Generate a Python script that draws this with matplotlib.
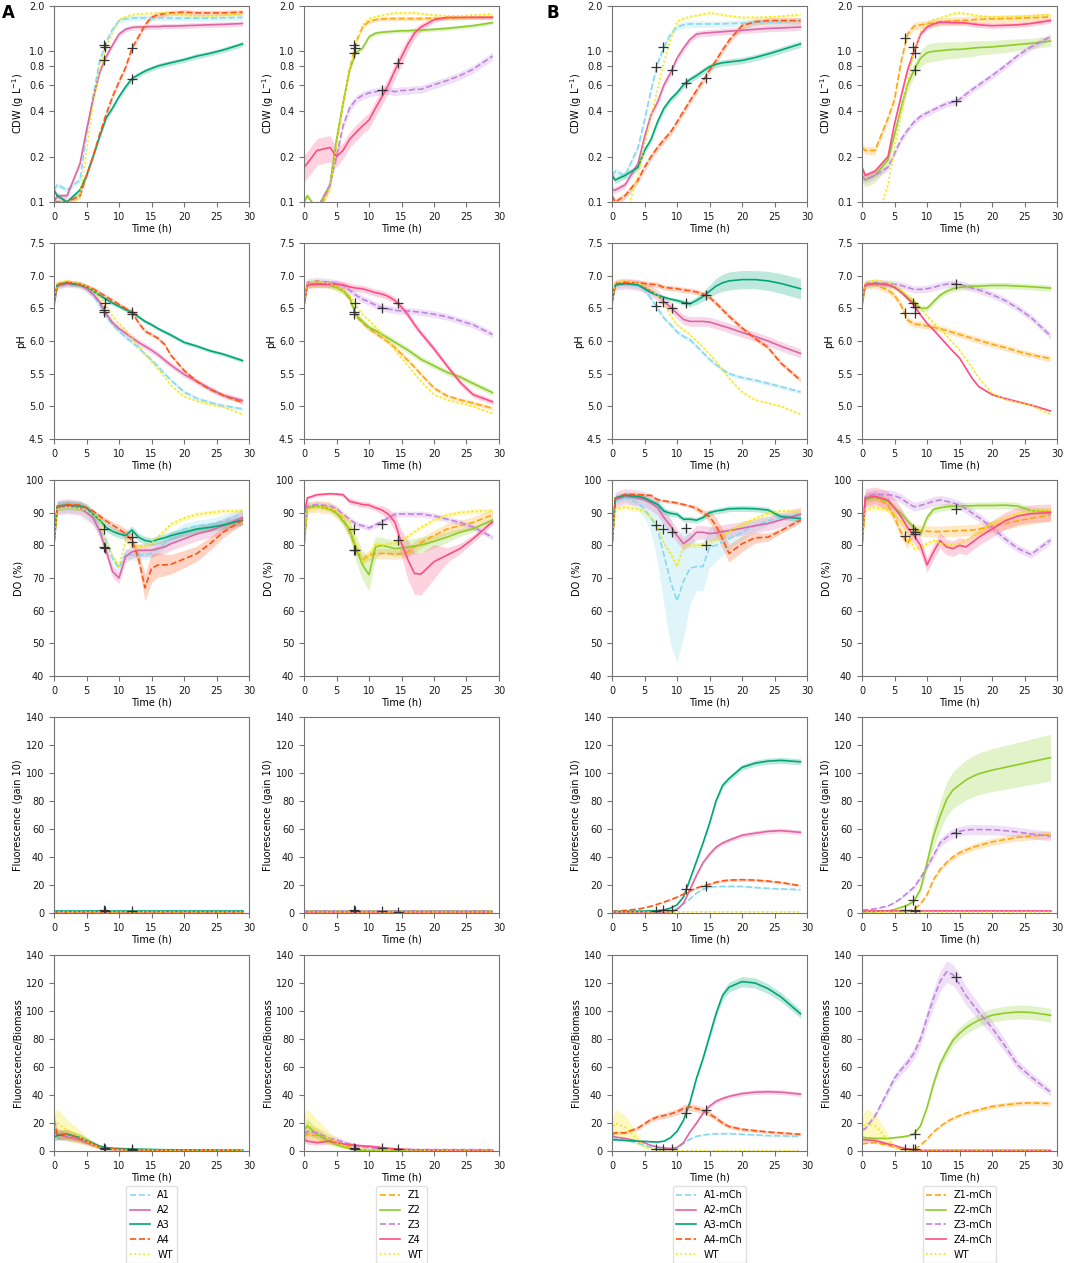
import numpy as np
import matplotlib.pyplot as plt
from matplotlib.ticker import NullLocator, NullFormatter

t = [0, 0.5, 2, 4, 5, 6, 7, 8, 9, 10, 11, 12, 13, 14, 15, 16, 17, 18, 20, 22, 24, 26, 29]

keys_a = ["A1", "A2", "A3", "A4", "WT"]
keys_z = ["Z1", "Z2", "Z3", "Z4", "WT"]
labels_a = ["A1", "A2", "A3", "A4", "WT"]
labels_z = ["Z1", "Z2", "Z3", "Z4", "WT"]
labels_am = ["A1-mCh", "A2-mCh", "A3-mCh", "A4-mCh", "WT"]
labels_zm = ["Z1-mCh", "Z2-mCh", "Z3-mCh", "Z4-mCh", "WT"]

colors = {"A1": "#87d9ee", "A2": "#e065a5", "A3": "#00a676", "A4": "#ff5514",
          "WT": "#f4e600", "Z1": "#ffa512", "Z2": "#8fcc2a", "Z3": "#c084e0",
          "Z4": "#ff4c84"}
styles = {"A1": "--", "A2": "-", "A3": "-", "A4": "--", "WT": ":",
          "Z1": "--", "Z2": "-", "Z3": "--", "Z4": "-"}

# ---------------- CDW (g/L) ----------------
cdw_a = {
    "A1": [0.12, 0.13, 0.12, 0.14, 0.28, 0.50, 0.85, 1.15, 1.40, 1.60, 1.64, 1.66, 1.67, 1.67, 1.67, 1.67, 1.67, 1.66, 1.66, 1.66, 1.66, 1.67, 1.68],
    "A2": [0.10, 0.11, 0.11, 0.18, 0.30, 0.48, 0.72, 0.92, 1.10, 1.30, 1.40, 1.44, 1.45, 1.45, 1.46, 1.46, 1.47, 1.47, 1.48, 1.49, 1.50, 1.51, 1.53],
    "A3": [0.12, 0.11, 0.10, 0.12, 0.15, 0.20, 0.27, 0.36, 0.42, 0.50, 0.58, 0.66, 0.70, 0.74, 0.77, 0.80, 0.82, 0.84, 0.88, 0.93, 0.97, 1.02, 1.12],
    "A4": [0.10, 0.10, 0.10, 0.11, 0.15, 0.20, 0.28, 0.38, 0.50, 0.63, 0.78, 1.05, 1.25, 1.50, 1.68, 1.75, 1.78, 1.80, 1.82, 1.80, 1.80, 1.80, 1.82],
    "WT": [0.10, 0.10, 0.09, 0.11, 0.22, 0.45, 0.75, 1.05, 1.35, 1.62, 1.70, 1.75, 1.77, 1.78, 1.79, 1.80, 1.80, 1.78, 1.74, 1.72, 1.72, 1.74, 1.77],
}
cdw_z = {
    "Z1": [0.08, 0.08, 0.08, 0.13, 0.25, 0.45, 0.75, 1.15, 1.45, 1.58, 1.62, 1.64, 1.65, 1.65, 1.65, 1.65, 1.65, 1.65, 1.66, 1.66, 1.67, 1.68, 1.69],
    "Z2": [0.10, 0.11, 0.09, 0.13, 0.26, 0.45, 0.75, 0.98, 1.05, 1.25, 1.32, 1.34, 1.35, 1.36, 1.37, 1.37, 1.38, 1.38, 1.40, 1.42, 1.45, 1.48, 1.55],
    "Z3": [0.09, 0.09, 0.09, 0.13, 0.20, 0.32, 0.42, 0.48, 0.51, 0.53, 0.54, 0.55, 0.55, 0.54, 0.55, 0.55, 0.56, 0.56, 0.60, 0.64, 0.69, 0.76, 0.93],
    "Z4": [0.17, 0.18, 0.22, 0.23, 0.20, 0.22, 0.26, 0.29, 0.32, 0.35, 0.42, 0.50, 0.60, 0.75, 0.92, 1.12, 1.32, 1.45, 1.62, 1.68, 1.68, 1.68, 1.68],
    "WT": [0.08, 0.08, 0.08, 0.12, 0.24, 0.45, 0.75, 1.15, 1.50, 1.65, 1.70, 1.73, 1.77, 1.80, 1.80, 1.80, 1.80, 1.78, 1.74, 1.72, 1.72, 1.74, 1.77],
}
cdw_am = {
    "A1": [0.15, 0.16, 0.15, 0.23, 0.35, 0.55, 0.83, 1.07, 1.30, 1.45, 1.50, 1.52, 1.52, 1.52, 1.52, 1.52, 1.52, 1.53, 1.54, 1.55, 1.56, 1.57, 1.59],
    "A2": [0.12, 0.12, 0.13, 0.18, 0.27, 0.38, 0.46, 0.60, 0.72, 0.90, 1.05, 1.20, 1.30, 1.32, 1.33, 1.34, 1.35, 1.36, 1.38, 1.40, 1.42, 1.43, 1.45],
    "A3": [0.15, 0.14, 0.15, 0.17, 0.22, 0.26, 0.34, 0.42, 0.48, 0.53, 0.60, 0.65, 0.69, 0.74, 0.79, 0.82, 0.84, 0.85, 0.87, 0.91, 0.96, 1.02, 1.12],
    "A4": [0.11, 0.10, 0.11, 0.14, 0.17, 0.20, 0.23, 0.26, 0.29, 0.34, 0.40, 0.47, 0.55, 0.64, 0.75, 0.87, 1.02, 1.18, 1.48, 1.57, 1.60, 1.60, 1.60],
    "WT": [0.08, 0.08, 0.08, 0.15, 0.24, 0.37, 0.56, 0.85, 1.20, 1.58, 1.65, 1.70, 1.73, 1.77, 1.80, 1.78, 1.75, 1.72, 1.68, 1.68, 1.69, 1.71, 1.75],
}
cdw_zm = {
    "Z1": [0.23, 0.22, 0.22, 0.36, 0.48, 0.85, 1.30, 1.47, 1.50, 1.52, 1.55, 1.57, 1.58, 1.60, 1.60, 1.61, 1.62, 1.63, 1.64, 1.65, 1.66, 1.67, 1.69],
    "Z2": [0.15, 0.14, 0.15, 0.19, 0.28, 0.42, 0.60, 0.75, 0.90, 0.98, 1.00, 1.01, 1.02, 1.03, 1.03, 1.04, 1.05, 1.06, 1.07, 1.09, 1.11, 1.13, 1.17],
    "Z3": [0.15, 0.14, 0.15, 0.17, 0.21, 0.26, 0.30, 0.34, 0.37, 0.39, 0.41, 0.43, 0.45, 0.46, 0.48, 0.52, 0.56, 0.60, 0.69, 0.80, 0.94, 1.07, 1.25],
    "Z4": [0.17, 0.15, 0.16, 0.20, 0.33, 0.50, 0.75, 1.00, 1.30, 1.45, 1.52, 1.56, 1.56, 1.55, 1.55, 1.54, 1.52, 1.50, 1.48, 1.49, 1.50, 1.53, 1.60],
    "WT": [0.07, 0.07, 0.07, 0.13, 0.23, 0.38, 0.62, 1.02, 1.35, 1.55, 1.62, 1.67, 1.72, 1.78, 1.80, 1.78, 1.75, 1.72, 1.69, 1.69, 1.70, 1.72, 1.75],
}

# ---------------- pH ----------------
ph_a = {
    "A1": [6.55, 6.85, 6.88, 6.86, 6.80, 6.70, 6.55, 6.38, 6.25, 6.15, 6.06, 5.98, 5.90, 5.80, 5.71, 5.61, 5.50, 5.40, 5.22, 5.12, 5.06, 5.01, 4.96],
    "A2": [6.55, 6.85, 6.88, 6.86, 6.80, 6.72, 6.60, 6.42, 6.28, 6.19, 6.12, 6.05, 5.98, 5.92, 5.86, 5.79, 5.71, 5.63, 5.49, 5.38, 5.27, 5.17, 5.09],
    "A3": [6.60, 6.86, 6.89, 6.86, 6.83, 6.77, 6.70, 6.64, 6.58, 6.53, 6.48, 6.44, 6.37, 6.30, 6.25, 6.19, 6.14, 6.09, 5.98, 5.92, 5.85, 5.80, 5.70],
    "A4": [6.60, 6.86, 6.90, 6.87, 6.84, 6.80, 6.74, 6.68, 6.62, 6.56, 6.50, 6.44, 6.28, 6.15, 6.10, 6.04, 5.95, 5.78, 5.55, 5.38, 5.26, 5.17, 5.06],
    "WT": [6.60, 6.90, 6.92, 6.88, 6.84, 6.78, 6.68, 6.55, 6.38, 6.27, 6.17, 6.04, 5.92, 5.80, 5.69, 5.57, 5.45, 5.32, 5.15, 5.08, 5.03, 4.99, 4.88],
}
ph_z = {
    "Z1": [6.55, 6.86, 6.88, 6.86, 6.82, 6.77, 6.65, 6.38, 6.28, 6.19, 6.12, 6.05, 5.98, 5.90, 5.80, 5.70, 5.60, 5.49, 5.28, 5.16, 5.10, 5.05, 4.97],
    "Z2": [6.55, 6.86, 6.88, 6.86, 6.82, 6.77, 6.67, 6.40, 6.30, 6.21, 6.16, 6.10, 6.04, 5.98, 5.92, 5.86, 5.79, 5.72, 5.62, 5.52, 5.45, 5.35, 5.21],
    "Z3": [6.60, 6.90, 6.92, 6.90, 6.88, 6.85, 6.78, 6.70, 6.64, 6.60, 6.55, 6.51, 6.49, 6.47, 6.46, 6.46, 6.45, 6.44, 6.41, 6.37, 6.31, 6.25, 6.10],
    "Z4": [6.55, 6.86, 6.87, 6.87, 6.87, 6.86, 6.83, 6.81, 6.80, 6.77, 6.74, 6.72, 6.68, 6.62, 6.52, 6.40, 6.25, 6.12, 5.88, 5.62, 5.37, 5.18, 5.07],
    "WT": [6.60, 6.90, 6.92, 6.88, 6.84, 6.78, 6.70, 6.55, 6.40, 6.32, 6.22, 6.10, 5.98, 5.86, 5.74, 5.62, 5.50, 5.38, 5.18, 5.10, 5.05, 5.00, 4.89],
}
ph_am = {
    "A1": [6.60, 6.85, 6.87, 6.84, 6.78, 6.65, 6.50, 6.35, 6.25, 6.14, 6.07, 6.02, 5.92, 5.82, 5.72, 5.64, 5.56, 5.50, 5.44, 5.40, 5.35, 5.30, 5.22],
    "A2": [6.60, 6.86, 6.88, 6.86, 6.82, 6.77, 6.70, 6.60, 6.52, 6.42, 6.33, 6.30, 6.30, 6.30, 6.29, 6.26, 6.23, 6.20, 6.13, 6.07, 6.00, 5.92, 5.81],
    "A3": [6.60, 6.86, 6.88, 6.86, 6.80, 6.74, 6.70, 6.67, 6.64, 6.62, 6.59, 6.57, 6.62, 6.68, 6.76, 6.84, 6.89, 6.92, 6.94, 6.94, 6.92, 6.88, 6.80],
    "A4": [6.60, 6.88, 6.90, 6.89, 6.88, 6.87, 6.86, 6.82, 6.81, 6.80, 6.78, 6.77, 6.75, 6.72, 6.67, 6.58, 6.48, 6.38, 6.20, 6.04, 5.90, 5.66, 5.40],
    "WT": [6.60, 6.90, 6.92, 6.88, 6.84, 6.78, 6.70, 6.58, 6.38, 6.25, 6.17, 6.10, 6.00, 5.90, 5.80, 5.69, 5.56, 5.43, 5.22, 5.10, 5.05, 5.00, 4.88],
}
ph_zm = {
    "Z1": [6.55, 6.85, 6.86, 6.78, 6.70, 6.55, 6.32, 6.26, 6.25, 6.23, 6.21, 6.19, 6.16, 6.13, 6.10, 6.07, 6.04, 6.01, 5.95, 5.90, 5.84, 5.79, 5.73],
    "Z2": [6.55, 6.86, 6.88, 6.86, 6.83, 6.76, 6.67, 6.58, 6.50, 6.50, 6.60, 6.70, 6.76, 6.80, 6.82, 6.83, 6.84, 6.84, 6.85, 6.85, 6.84, 6.83, 6.81],
    "Z3": [6.60, 6.88, 6.89, 6.88, 6.87, 6.85, 6.82, 6.79, 6.79, 6.80, 6.82, 6.85, 6.87, 6.88, 6.87, 6.84, 6.81, 6.78, 6.71, 6.62, 6.50, 6.36, 6.08],
    "Z4": [6.60, 6.86, 6.88, 6.86, 6.82, 6.75, 6.65, 6.55, 6.40, 6.27, 6.17, 6.06, 5.95, 5.84, 5.74, 5.58, 5.42, 5.30, 5.18, 5.12, 5.07, 5.02, 4.93],
    "WT": [6.60, 6.90, 6.93, 6.90, 6.85, 6.78, 6.70, 6.62, 6.50, 6.38, 6.28, 6.18, 6.08, 5.97, 5.86, 5.72, 5.58, 5.43, 5.20, 5.11, 5.06, 5.02, 4.88],
}

# ---------------- DO (%) ----------------
do_a = {
    "A1": [81, 91.5, 92, 91.5, 90.5, 88, 85, 81.5, 76, 73, 77.5, 77, 77, 77.2, 77.5, 79, 80.5, 82.5, 85, 86, 86.5, 87.5, 89.5],
    "A2": [81, 91.5, 92, 91.5, 90, 88.5, 84.5, 78.5, 72, 70, 76.5, 78, 78.5, 78.5, 78.5, 79, 79.5, 80.5, 82, 83.5, 84.5, 86, 88.5],
    "A3": [81, 92, 92.3, 92, 91.5, 89.5, 87.8, 85.5, 84.3, 83.5, 83, 84.7, 82.5, 81.5, 81.1, 81.8, 82.3, 83, 84, 85, 85.5, 86.2, 87.7],
    "A4": [81, 92, 92.5, 92.3, 91.5, 90.5, 89, 87.5, 86.2, 85, 83.5, 81.5, 76, 67, 73, 74, 74, 74.2, 75.8, 77.5, 80.5, 84, 87.7],
    "WT": [80, 91, 91.8, 91.3, 90.5, 89.5, 88, 81, 76.5, 73.5, 81.5, 80, 79.6, 79.8, 80.8, 82.6, 84.5, 86.5, 88.3, 89.5, 90, 90.5, 90.5],
}
do_z = {
    "Z1": [80, 91.5, 92, 91.5, 90, 88, 84, 79, 75.5, 77, 77.5, 77.5, 77.5, 77.3, 77.5, 78, 79.5, 80.8, 83, 85, 86, 87, 89.3],
    "Z2": [80, 91.5, 92, 91, 89.8, 87.5, 85, 79, 74, 71, 79.5, 80, 79.5, 79, 79.2, 79.5, 79.8, 80.1, 81.2, 82.5, 84, 85, 87.7],
    "Z3": [80, 92, 92.5, 92, 91.3, 89.5, 88, 86.5, 86, 85.3, 86.3, 87.2, 88.5, 89.5, 89.6, 89.6, 89.5, 89.6, 89, 88, 87, 85.6, 82.5],
    "Z4": [89, 94.5, 95.5, 95.8, 95.7, 95.5, 93.5, 93, 92.5, 92.3, 91.5, 90.8, 89.5, 87, 80.6, 75.5, 71.4, 71.2, 75, 77, 79, 82, 87.2],
    "WT": [80, 91, 91.8, 91.3, 90.5, 89, 87.5, 80.5, 75, 77, 80.5, 80, 80.3, 80.8, 81.5, 82.8, 84.2, 85.5, 87.8, 89.3, 90, 90.4, 90.6],
}
do_am = {
    "A1": [80, 93.5, 94.5, 93, 91, 88.5, 85, 77, 69, 63, 69, 73, 73.5, 73.5, 79.5, 80, 81, 82, 84, 86, 87.5, 88.5, 89.8],
    "A2": [80, 94, 95, 94.5, 94, 93, 91.5, 88.5, 86, 83, 80.5, 82, 84, 84, 83.6, 83.8, 84.2, 84.5, 85.2, 86, 86.7, 87.8, 89.5],
    "A3": [80, 94.5, 95.3, 95, 94.5, 93.5, 92.5, 90.5, 89.8, 89.5, 88, 88, 87.7, 88.5, 90, 90.5, 90.8, 91.2, 91.3, 91.2, 90.8, 88.8, 88.2],
    "A4": [80, 94.5, 95.6, 95.5, 95.4, 95.3, 94, 93.6, 93.3, 93, 92.5, 92, 91.3, 90, 88.8, 86, 82, 77.5, 80.5, 82.3, 82.5, 84.5, 87.7],
    "WT": [80, 91, 91.8, 91, 90.5, 88.5, 85.8, 80.5, 77.5, 73.5, 80, 80, 79.9, 80.3, 81, 81.8, 83, 84.3, 86.5, 88.2, 89.8, 90.5, 90.3],
}
do_zm = {
    "Z1": [80, 94, 94.8, 92.3, 88.5, 84, 80.5, 84.7, 84.5, 84.3, 84.2, 84.2, 84.3, 84.4, 84.5, 84.6, 84.7, 85, 85.8, 86.6, 87.5, 88.3, 89.3],
    "Z2": [80, 94, 94.8, 93.5, 91.5, 89.8, 87.5, 85.5, 83.5, 88.5, 91, 91.5, 91.8, 92, 92, 92.1, 92.1, 92.2, 92.2, 92.3, 92, 90.6, 90.3],
    "Z3": [80, 95, 95.6, 95.5, 95.2, 94.4, 93, 91.8, 92.2, 92.8, 93.5, 93.9, 93.5, 93, 92.3, 91.2, 89.8, 88.5, 85.5, 82, 79, 77.2, 81.6],
    "Z4": [80, 94.5, 95, 93.8, 91.5, 88.8, 85.5, 83, 80, 74, 78, 81.5, 79.5, 79, 80, 79.5, 81, 82.5, 85, 87.5, 89, 89.7, 90],
    "WT": [80, 91, 91.6, 90.8, 89.5, 87.3, 84, 79, 79.5, 80.5, 81.5, 80.6, 80.3, 80.1, 80.6, 81.5, 82.6, 84, 86.8, 88.5, 89.8, 90.5, 90.8],
}

# ---------------- Fluorescence (gain 10) ----------------
fl_a = {
    "A1": [1.0, 1.0, 1.0, 1.0, 1.0, 1.0, 1.0, 1.0, 1.0, 1.0, 1.0, 1.0, 1.0, 1.0, 1.0, 1.0, 1.0, 1.0, 1.0, 1.0, 1.0, 1.0, 1.0],
    "A2": [0.8, 0.8, 0.8, 0.8, 0.8, 0.8, 0.8, 0.8, 0.8, 0.8, 0.8, 0.8, 0.8, 0.8, 0.8, 0.8, 0.8, 0.8, 0.8, 0.8, 0.8, 0.8, 0.8],
    "A3": [1.3, 1.3, 1.3, 1.3, 1.3, 1.3, 1.3, 1.3, 1.3, 1.3, 1.3, 1.3, 1.3, 1.3, 1.3, 1.3, 1.3, 1.3, 1.3, 1.3, 1.3, 1.3, 1.3],
    "A4": [1.0, 1.0, 1.0, 1.0, 1.0, 1.0, 1.0, 1.0, 1.0, 1.0, 1.0, 1.0, 1.0, 1.0, 1.0, 1.0, 1.0, 1.0, 1.0, 1.0, 1.0, 1.0, 1.0],
    "WT": [0.9, 0.9, 0.9, 0.9, 0.9, 0.9, 0.9, 0.9, 0.9, 0.9, 0.9, 0.9, 0.9, 0.9, 0.9, 0.9, 0.9, 0.9, 0.9, 0.9, 0.9, 0.9, 0.9],
}
fl_z = {
    "Z1": [1.0, 1.0, 1.0, 1.0, 1.0, 1.0, 1.0, 1.0, 1.0, 1.0, 1.0, 1.0, 1.0, 1.0, 1.0, 1.0, 1.0, 1.0, 1.0, 1.0, 1.0, 1.0, 1.0],
    "Z2": [1.1, 1.1, 1.1, 1.1, 1.1, 1.1, 1.1, 1.1, 1.1, 1.1, 1.1, 1.1, 1.1, 1.1, 1.1, 1.1, 1.1, 1.1, 1.1, 1.1, 1.1, 1.1, 1.1],
    "Z3": [1.2, 1.2, 1.2, 1.2, 1.2, 1.2, 1.2, 1.2, 1.2, 1.2, 1.2, 1.2, 1.2, 1.2, 1.2, 1.2, 1.2, 1.2, 1.2, 1.2, 1.2, 1.2, 1.2],
    "Z4": [0.8, 0.8, 0.8, 0.8, 0.8, 0.8, 0.8, 0.8, 0.8, 0.8, 0.8, 0.8, 0.8, 0.8, 0.8, 0.8, 0.8, 0.8, 0.8, 0.8, 0.8, 0.8, 0.8],
    "WT": [0.9, 0.9, 0.9, 0.9, 0.9, 0.9, 0.9, 0.9, 0.9, 0.9, 0.9, 0.9, 0.9, 0.9, 0.9, 0.9, 0.9, 0.9, 0.9, 0.9, 0.9, 0.9, 0.9],
}
fl_am = {
    "A1": [0.5, 0.5, 0.5, 0.5, 0.5, 0.5, 0.6, 0.8, 1.3, 3.0, 6.5, 10, 14.3, 17, 18.5, 18.9, 19, 19, 19, 18.2, 17.6, 17.2, 16.7],
    "A2": [0.3, 0.3, 0.3, 0.3, 0.3, 0.3, 0.4, 0.5, 0.8, 2.4, 7, 16.7, 27, 36, 42, 47, 50, 52, 55.5, 57, 58.3, 58.8, 57.6],
    "A3": [1.2, 1.2, 1.2, 1.3, 1.4, 1.5, 1.7, 2.2, 3.5, 5.8, 11.5, 24, 37, 50, 64, 80, 91, 96, 104, 107, 108.5, 109, 108],
    "A4": [1.0, 1.2, 1.8, 2.8, 3.7, 4.8, 6.3, 7.8, 9.5, 11.3, 13.5, 15.8, 17.9, 19.3, 20.6, 22, 23, 23.5, 23.8, 23.5, 22.8, 21.8, 19.5],
    "WT": [1.0, 1.0, 1.0, 1.0, 1.0, 1.0, 1.0, 1.0, 1.0, 1.0, 1.0, 1.0, 1.0, 1.0, 1.0, 1.0, 1.0, 1.0, 1.0, 1.0, 1.0, 1.0, 1.0],
}
fl_zm = {
    "Z1": [1, 1, 1, 1, 1, 1, 1.2, 2.5, 6.5, 13, 23.8, 31, 36, 40, 43, 45, 46.8, 48.3, 50.8, 52.5, 54, 55, 56],
    "Z2": [1, 1, 1, 1.5, 2.5, 4, 5.7, 8.5, 17, 35.7, 55, 69, 81, 88, 91.5, 95, 97.5, 99.5, 102, 104, 106, 108, 111],
    "Z3": [2, 2.2, 3, 5, 7.3, 10.5, 14.5, 18.5, 25, 33, 41, 50, 54, 57, 58.3, 59.3, 59.6, 59.6, 59.5, 58.8, 57.8, 56.5, 54.8],
    "Z4": [1.5, 1.5, 1.5, 1.5, 1.5, 1.5, 1.5, 1.5, 1.5, 1.5, 1.5, 1.5, 1.5, 1.5, 1.5, 1.5, 1.5, 1.5, 1.5, 1.5, 1.5, 1.5, 1.5],
    "WT": [1.0, 1.0, 1.0, 1.0, 1.0, 1.0, 1.0, 1.0, 1.0, 1.0, 1.0, 1.0, 1.0, 1.0, 1.0, 1.0, 1.0, 1.0, 1.0, 1.0, 1.0, 1.0, 1.0],
}

# ---------------- Fluorescence / Biomass ----------------
fb_a = {
    "A1": [15, 12, 11, 8.5, 6.5, 4.5, 3, 2, 1.5, 1.2, 1, 0.9, 0.8, 0.7, 0.6, 0.6, 0.5, 0.5, 0.5, 0.5, 0.5, 0.5, 0.5],
    "A2": [14, 12, 10, 8, 6, 4, 2.5, 1.5, 1, 0.8, 0.7, 0.6, 0.5, 0.5, 0.4, 0.4, 0.4, 0.4, 0.4, 0.4, 0.4, 0.4, 0.4],
    "A3": [10, 11, 12, 9.5, 7.5, 5.5, 3.5, 2.5, 2, 1.8, 1.6, 1.5, 1.3, 1.2, 1.1, 1, 0.9, 0.9, 0.8, 0.7, 0.7, 0.6, 0.6],
    "A4": [22, 12, 12, 9, 7, 5, 3, 2, 1.5, 1.3, 1.1, 1, 0.9, 0.8, 0.7, 0.6, 0.6, 0.5, 0.5, 0.5, 0.5, 0.5, 0.5],
    "WT": [18, 20, 15, 10, 7, 4.5, 2.5, 1.5, 1, 0.8, 0.7, 0.6, 0.5, 0.5, 0.5, 0.5, 0.5, 0.5, 0.5, 0.5, 0.5, 0.5, 0.5],
}
fb_z = {
    "Z1": [10, 12, 11, 7.5, 6, 4.5, 3, 2, 1.2, 0.8, 0.6, 0.5, 0.5, 0.4, 0.4, 0.4, 0.4, 0.4, 0.4, 0.4, 0.4, 0.4, 0.4],
    "Z2": [15, 18, 12, 6.5, 4.5, 3, 1.8, 1, 0.6, 0.5, 0.4, 0.3, 0.3, 0.3, 0.3, 0.3, 0.3, 0.3, 0.3, 0.3, 0.3, 0.3, 0.3],
    "Z3": [12, 14, 13, 9, 8, 6.5, 5, 4, 3, 2.5, 2, 1.8, 1.6, 1.4, 1.2, 1.1, 1, 1, 1, 1, 1, 1, 0.9],
    "Z4": [8, 7, 6, 7, 6, 5, 4.5, 4, 3.7, 3.4, 3, 2.5, 2, 1.6, 1.3, 1.1, 0.9, 0.8, 0.7, 0.6, 0.6, 0.5, 0.5],
    "WT": [18, 20, 15, 9, 6, 4, 2.5, 1.5, 1, 0.8, 0.6, 0.5, 0.5, 0.5, 0.5, 0.5, 0.5, 0.5, 0.5, 0.5, 0.5, 0.5, 0.5],
}
fb_am = {
    "A1": [10, 9, 8, 5.5, 4, 2.6, 1.7, 1.4, 1.2, 1.5, 5.3, 8.5, 10.5, 11.5, 12, 12.3, 12.4, 12.4, 12, 11.5, 11, 10.8, 10.5],
    "A2": [11, 10, 9, 7, 5.8, 4, 2.8, 2.2, 1.8, 2.5, 6, 13.6, 20, 27, 32, 35.5, 37.5, 39, 41, 42, 42.3, 42, 40.6],
    "A3": [8, 8, 7.5, 7, 6.9, 6.6, 6.4, 7, 9.5, 14, 22, 35, 52, 66, 82, 98, 111, 117, 121, 120, 116, 110, 98],
    "A4": [12, 13, 13, 16.5, 19.5, 22.5, 24.3, 25.3, 26.5, 28, 30.5, 31.5, 30.3, 29, 26.5, 23.5, 20, 17.5, 15.5, 14.5, 13.6, 12.9, 11.9],
    "WT": [15, 20, 17, 8, 3, 1.5, 0.8, 0.5, 0.4, 0.3, 0.3, 0.3, 0.3, 0.3, 0.3, 0.3, 0.3, 0.3, 0.3, 0.3, 0.3, 0.3, 0.3],
}
fb_zm = {
    "Z1": [5, 5.5, 6, 4, 2.8, 1.8, 1.2, 1.2, 4, 8.5, 13.6, 17.5, 20.8, 23.3, 25.3, 27, 28.3, 29.5, 31.8, 33, 34, 34.4, 33.9],
    "Z2": [10, 9.5, 9, 9, 9.5, 10, 10.7, 12.2, 18, 31, 48, 62, 71, 79, 84, 88, 91, 93.5, 97, 98.5, 99.3, 99, 97],
    "Z3": [15, 16, 25, 43, 52, 58, 63, 70, 80, 95, 109, 121, 128, 126, 119, 111, 105, 99, 88, 75, 61, 53, 42],
    "Z4": [8, 8, 7.5, 5, 4, 2.5, 1.5, 0.7, 0.5, 0.5, 0.5, 0.5, 0.5, 0.5, 0.5, 0.5, 0.5, 0.5, 0.5, 0.5, 0.5, 0.5, 0.5],
    "WT": [15, 20, 18, 8, 3, 1.5, 0.8, 0.5, 0.4, 0.3, 0.3, 0.3, 0.3, 0.3, 0.3, 0.3, 0.3, 0.3, 0.3, 0.3, 0.3, 0.3, 0.3],
}

# relative spread of the replicate band (fraction of the mean)
cdw_a_band = {"A1": 0.04, "A2": 0.04, "A3": 0.04, "A4": 0.04, "WT": 0.02}
cdw_z_band = {"Z1": 0.03, "Z2": 0.03, "Z3": 0.06, "WT": 0.02,
              "Z4": [0.2, 0.2, 0.2, 0.2, 0.15, 0.12, 0.12, 0.12, 0.12, 0.12, 0.12, 0.12, 0.12, 0.12, 0.12, 0.1, 0.08, 0.06, 0.04, 0.03, 0.03, 0.03, 0.03]}
cdw_am_band = {"A1": 0.05, "A2": 0.05, "A3": 0.05, "A4": 0.05, "WT": 0.02}
cdw_zm_band = {"Z1": 0.06, "Z3": 0.05, "Z4": 0.04, "WT": 0.02,
               "Z2": [0.1, 0.1, 0.1, 0.1, 0.08, 0.08, 0.1, 0.1, 0.12, 0.14, 0.14, 0.14, 0.13, 0.13, 0.12, 0.12, 0.12, 0.11, 0.1, 0.1, 0.09, 0.08, 0.08]}
ph_a_band = {"A1": 0.006, "A2": 0.008, "A3": 0.005, "A4": 0.005, "WT": 0.003}
ph_z_band = {"Z1": 0.006, "Z2": 0.008, "Z3": 0.008, "Z4": 0.008, "WT": 0.003}
ph_am_band = {"A1": 0.006, "A2": 0.012, "A4": 0.006, "WT": 0.003,
              "A3": [0.003, 0.003, 0.003, 0.003, 0.003, 0.003, 0.004, 0.004, 0.004, 0.005, 0.006, 0.007, 0.009, 0.011, 0.014, 0.017, 0.019, 0.02, 0.02, 0.02, 0.021, 0.022, 0.023]}
ph_zm_band = {"Z1": 0.008, "Z2": 0.007, "Z3": 0.008, "Z4": 0.003, "WT": 0.003}
do_a_band = {"A1": 0.02, "A2": 0.025, "A3": 0.015, "WT": 0.008,
             "A4": [0.01, 0.005, 0.005, 0.005, 0.005, 0.006, 0.008, 0.01, 0.012, 0.015, 0.02, 0.02, 0.03, 0.06, 0.06, 0.05, 0.045, 0.04, 0.035, 0.03, 0.025, 0.02, 0.015]}
do_z_band = {"Z1": 0.02, "Z3": 0.01, "WT": 0.008,
             "Z2": [0.01, 0.005, 0.005, 0.008, 0.01, 0.015, 0.03, 0.05, 0.06, 0.07, 0.04, 0.03, 0.03, 0.03, 0.03, 0.03, 0.03, 0.03, 0.025, 0.02, 0.015, 0.01, 0.01],
             "Z4": [0.01, 0.005, 0.005, 0.005, 0.005, 0.005, 0.01, 0.01, 0.01, 0.01, 0.01, 0.015, 0.02, 0.03, 0.05, 0.08, 0.09, 0.09, 0.07, 0.03, 0.02, 0.015, 0.01]}
do_am_band = {"A2": 0.025, "A3": 0.01, "WT": 0.008,
              "A1": [0.01, 0.01, 0.01, 0.02, 0.03, 0.05, 0.12, 0.2, 0.28, 0.3, 0.25, 0.15, 0.1, 0.1, 0.08, 0.06, 0.05, 0.04, 0.03, 0.02, 0.015, 0.01, 0.01],
              "A4": [0.01, 0.005, 0.005, 0.005, 0.005, 0.005, 0.005, 0.005, 0.005, 0.005, 0.005, 0.005, 0.01, 0.01, 0.02, 0.03, 0.035, 0.035, 0.03, 0.02, 0.015, 0.01, 0.01]}
do_zm_band = {"Z1": 0.02, "Z2": 0.012, "Z3": 0.015, "Z4": 0.03, "WT": 0.008}
fl_a_band = {"A1": 0.2, "A2": 0.2, "A3": 0.2, "A4": 0.2, "WT": 0.2}
fl_z_band = {"Z1": 0.2, "Z2": 0.2, "Z3": 0.2, "Z4": 0.2, "WT": 0.2}
fl_am_band = {"A1": 0.04, "A2": 0.03, "A3": 0.02, "A4": 0.04, "WT": 0.1}
fl_zm_band = {"Z1": 0.05, "Z2": 0.15, "Z3": 0.06, "Z4": 0.2, "WT": 0.1}
fb_a_band = {"A1": 0.3, "A2": 0.3, "A3": 0.3, "A4": 0.3, "WT": 0.5}
fb_z_band = {"Z1": 0.3, "Z2": 0.3, "Z3": 0.3, "Z4": 0.3, "WT": 0.5}
fb_am_band = {"A1": 0.05, "A2": 0.04, "A3": 0.03, "A4": 0.08, "WT": 0.5}
fb_zm_band = {"Z1": 0.05, "Z2": 0.05, "Z3": 0.06, "Z4": 0.2, "WT": 0.5}

# sampling points (black crosses)
cdw_a_marks = [(7.7, 1.10), (7.9, 1.07), (7.7, 0.88), (12.0, 1.06), (12.0, 0.66)]
cdw_z_marks = [(7.7, 1.10), (7.9, 1.05), (7.7, 0.97), (12.0, 0.55), (14.5, 0.84)]
cdw_am_marks = [(6.7, 0.79), (7.9, 1.07), (9.3, 0.75), (11.4, 0.62), (14.5, 0.67)]
cdw_zm_marks = [(6.6, 1.22), (7.9, 1.07), (8.1, 0.97), (8.1, 0.75), (14.5, 0.47)]
ph_a_marks = [(7.7, 6.48), (7.7, 6.44), (7.9, 6.58), (12.0, 6.45), (12.0, 6.42)]
ph_z_marks = [(7.7, 6.45), (7.7, 6.42), (7.9, 6.58), (12.0, 6.51), (14.5, 6.58)]
ph_am_marks = [(6.7, 6.53), (7.9, 6.59), (9.3, 6.50), (11.4, 6.58), (14.5, 6.70)]
ph_zm_marks = [(6.6, 6.43), (7.9, 6.58), (8.1, 6.52), (8.1, 6.43), (14.5, 6.88)]
do_a_marks = [(7.7, 85.0), (7.7, 79.5), (7.9, 79.3), (12.0, 82.5), (12.0, 81.0)]
do_z_marks = [(7.7, 85.0), (7.7, 78.6), (7.9, 78.5), (12.0, 86.5), (14.5, 81.5)]
do_am_marks = [(6.7, 86.3), (7.9, 85.0), (9.3, 84.0), (11.4, 85.2), (14.5, 80.0)]
do_zm_marks = [(6.6, 83.0), (7.9, 85.0), (8.1, 84.0), (8.1, 83.5), (14.5, 91.2)]
fl_a_marks = [(7.7, 1.8), (7.9, 1.5), (12.0, 1.2)]
fl_z_marks = [(7.7, 1.8), (7.9, 1.5), (12.0, 1.2), (14.5, 1.0)]
fl_am_marks = [(6.7, 1.5), (7.9, 2.0), (9.3, 2.0), (11.4, 17.5), (14.5, 19.5)]
fl_zm_marks = [(6.6, 2.0), (7.9, 9.5), (8.1, 1.5), (8.1, 2.5), (14.5, 57.5)]
fb_a_marks = [(7.7, 1.8), (7.9, 1.5), (12.0, 1.5), (12.0, 1.0)]
fb_z_marks = [(7.7, 1.8), (7.9, 1.3), (12.0, 2.5), (14.5, 1.5)]
fb_am_marks = [(6.7, 1.5), (7.9, 1.5), (9.3, 1.7), (11.4, 27.5), (14.5, 29.0)]
fb_zm_marks = [(6.6, 1.5), (7.9, 1.5), (8.1, 1.2), (8.1, 12.5), (14.5, 124.5)]

rows = [
    [(cdw_a, cdw_a_band, cdw_a_marks), (cdw_z, cdw_z_band, cdw_z_marks),
     (cdw_am, cdw_am_band, cdw_am_marks), (cdw_zm, cdw_zm_band, cdw_zm_marks)],
    [(ph_a, ph_a_band, ph_a_marks), (ph_z, ph_z_band, ph_z_marks),
     (ph_am, ph_am_band, ph_am_marks), (ph_zm, ph_zm_band, ph_zm_marks)],
    [(do_a, do_a_band, do_a_marks), (do_z, do_z_band, do_z_marks),
     (do_am, do_am_band, do_am_marks), (do_zm, do_zm_band, do_zm_marks)],
    [(fl_a, fl_a_band, fl_a_marks), (fl_z, fl_z_band, fl_z_marks),
     (fl_am, fl_am_band, fl_am_marks), (fl_zm, fl_zm_band, fl_zm_marks)],
    [(fb_a, fb_a_band, fb_a_marks), (fb_z, fb_z_band, fb_z_marks),
     (fb_am, fb_am_band, fb_am_marks), (fb_zm, fb_zm_band, fb_zm_marks)],
]
col_keys = [keys_a, keys_z, keys_a, keys_z]
col_labels = [labels_a, labels_z, labels_am, labels_zm]
ylabels = ["CDW (g L$^{-1}$)", "pH", "DO (%)", "Fluorescence (gain 10)", "Fluorescence/Biomass"]

plt.rcParams["font.family"] = "DejaVu Sans"
plt.rcParams["font.size"] = 7
plt.rcParams["axes.edgecolor"] = "0.45"
plt.rcParams["xtick.color"] = "0.45"
plt.rcParams["ytick.color"] = "0.45"
plt.rcParams["xtick.labelcolor"] = "0.1"
plt.rcParams["ytick.labelcolor"] = "0.1"

W, H = 1065, 1263
fig = plt.figure(figsize=(W / 100, H / 100), dpi=100)

col_left = [54, 304, 612, 862]
col_w = 195
row_top = [6, 243, 480, 717, 955]
row_h = 196

tt = np.array(t)
for r in range(5):
    for c in range(4):
        data, band, marks = rows[r][c]
        ax = fig.add_axes([col_left[c] / W, 1 - (row_top[r] + row_h) / H, col_w / W, row_h / H])
        for k, lab in zip(col_keys[c], col_labels[c]):
            y = np.array(data[k], dtype=float)
            b = np.broadcast_to(np.array(band[k], dtype=float), y.shape)
            ax.fill_between(tt, y * (1 - b), y * (1 + b), color=colors[k], alpha=0.25, lw=0)
            ax.plot(tt, y, color=colors[k], ls=styles[k], lw=1.2, label=lab)
        for mt, mv in marks:
            ax.plot(mt, mv, "+", color="0.2", ms=7, mew=0.9)
        ax.set_xlim(0, 30)
        ax.set_xticks(range(0, 31, 5))
        ax.set_xlabel("Time (h)", labelpad=1)
        ax.set_ylabel(ylabels[r], labelpad=2)
        if r == 0:
            ax.set_yscale("log")
            ax.set_ylim(0.1, 2.0)
            ax.set_yticks([0.1, 0.2, 0.4, 0.6, 0.8, 1.0, 2.0])
            ax.set_yticklabels(["0.1", "0.2", "0.4", "0.6", "0.8", "1.0", "2.0"])
            ax.yaxis.set_minor_locator(NullLocator())
            ax.yaxis.set_minor_formatter(NullFormatter())
        elif r == 1:
            ax.set_ylim(4.5, 7.5)
            ax.set_yticks(np.arange(4.5, 7.51, 0.5))
        elif r == 2:
            ax.set_ylim(40, 100)
            ax.set_yticks(range(40, 101, 10))
        else:
            ax.set_ylim(0, 140)
            ax.set_yticks(range(0, 141, 20))
        if r == 4:
            ax.legend(loc="upper center", bbox_to_anchor=(0.5, -0.155), fontsize=7,
                      handlelength=2.0, frameon=True, edgecolor="0.85")

fig.text(2 / W, 1 - 4 / H, "A", fontsize=12, fontweight="bold", va="top")
fig.text(546 / W, 1 - 4 / H, "B", fontsize=12, fontweight="bold", va="top")

fig.savefig("out.png", dpi=100)
